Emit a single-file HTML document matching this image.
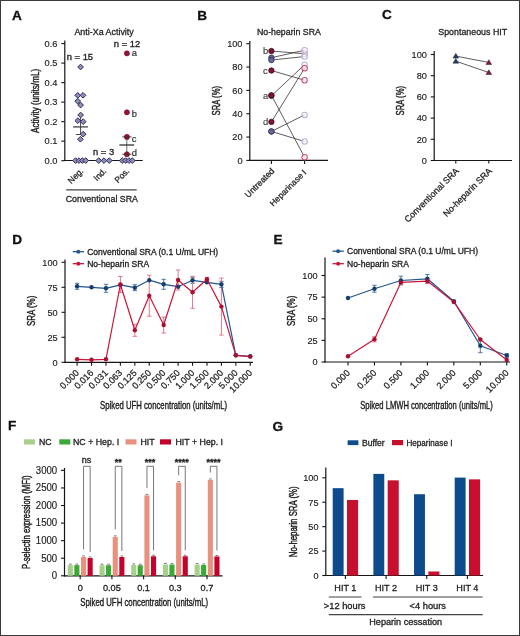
<!DOCTYPE html>
<html><head><meta charset="utf-8"><style>
html,body{margin:0;padding:0;background:#fff;}
body{width:520px;height:636px;overflow:hidden;}
svg{display:block;font-family:"Liberation Sans", sans-serif;filter:blur(0.35px);}
</style></head><body>
<svg width="520" height="636" viewBox="0 0 520 636">
<rect x="0" y="0" width="520" height="636" fill="#fff"/>
<text x="12.10" y="19.80" font-size="12.6" fill="#111" stroke="#111" stroke-width="0.3" font-weight="bold" textLength="9.85" lengthAdjust="spacingAndGlyphs">A</text>
<text x="74.40" y="34.80" font-size="9.79" text-anchor="start" fill="#1c1c1c" stroke="#1c1c1c" stroke-width="0.3" font-weight="normal" textLength="59.36" lengthAdjust="spacingAndGlyphs" >Anti-Xa Activity</text>
<line x1="64.80" y1="40.50" x2="64.80" y2="161.10" stroke="#151515" stroke-width="1.2" />
<line x1="61.30" y1="160.70" x2="64.80" y2="160.70" stroke="#151515" stroke-width="1.1" />
<text x="57.50" y="164.00" font-size="9.77" text-anchor="end" fill="#1c1c1c" stroke="#1c1c1c" stroke-width="0.15" font-weight="normal" textLength="12.93" lengthAdjust="spacingAndGlyphs" >0.0</text>
<line x1="61.30" y1="141.18" x2="64.80" y2="141.18" stroke="#151515" stroke-width="1.1" />
<text x="57.50" y="144.48" font-size="9.77" text-anchor="end" fill="#1c1c1c" stroke="#1c1c1c" stroke-width="0.15" font-weight="normal" textLength="12.93" lengthAdjust="spacingAndGlyphs" >0.1</text>
<line x1="61.30" y1="121.66" x2="64.80" y2="121.66" stroke="#151515" stroke-width="1.1" />
<text x="57.50" y="124.96" font-size="9.77" text-anchor="end" fill="#1c1c1c" stroke="#1c1c1c" stroke-width="0.15" font-weight="normal" textLength="12.93" lengthAdjust="spacingAndGlyphs" >0.2</text>
<line x1="61.30" y1="102.14" x2="64.80" y2="102.14" stroke="#151515" stroke-width="1.1" />
<text x="57.50" y="105.44" font-size="9.77" text-anchor="end" fill="#1c1c1c" stroke="#1c1c1c" stroke-width="0.15" font-weight="normal" textLength="12.93" lengthAdjust="spacingAndGlyphs" >0.3</text>
<line x1="61.30" y1="82.62" x2="64.80" y2="82.62" stroke="#151515" stroke-width="1.1" />
<text x="57.50" y="85.92" font-size="9.77" text-anchor="end" fill="#1c1c1c" stroke="#1c1c1c" stroke-width="0.15" font-weight="normal" textLength="12.93" lengthAdjust="spacingAndGlyphs" >0.4</text>
<line x1="61.30" y1="63.10" x2="64.80" y2="63.10" stroke="#151515" stroke-width="1.1" />
<text x="57.50" y="66.40" font-size="9.77" text-anchor="end" fill="#1c1c1c" stroke="#1c1c1c" stroke-width="0.15" font-weight="normal" textLength="12.93" lengthAdjust="spacingAndGlyphs" >0.5</text>
<line x1="61.30" y1="43.58" x2="64.80" y2="43.58" stroke="#151515" stroke-width="1.1" />
<text x="57.50" y="46.88" font-size="9.77" text-anchor="end" fill="#1c1c1c" stroke="#1c1c1c" stroke-width="0.15" font-weight="normal" textLength="12.93" lengthAdjust="spacingAndGlyphs" >0.6</text>
<line x1="64.20" y1="160.50" x2="142.70" y2="160.50" stroke="#151515" stroke-width="1.2" />
<text transform="translate(35.10,100.90) rotate(-90)" x="0" y="0" font-size="11.0" text-anchor="middle" dominant-baseline="central" fill="#1c1c1c" stroke="#1c1c1c" stroke-width="0.4" font-weight="normal" textLength="64" lengthAdjust="spacingAndGlyphs">Activity (units/mL)</text>
<text x="66.70" y="60.20" font-size="8.74" text-anchor="start" fill="#1c1c1c" stroke="#1c1c1c" stroke-width="0.3" font-weight="normal" textLength="26.40" lengthAdjust="spacingAndGlyphs" >n = 15</text>
<text x="113.80" y="46.70" font-size="8.74" text-anchor="start" fill="#1c1c1c" stroke="#1c1c1c" stroke-width="0.3" font-weight="normal" textLength="26.40" lengthAdjust="spacingAndGlyphs" >n = 12</text>
<text x="93.00" y="154.60" font-size="8.74" text-anchor="start" fill="#1c1c1c" stroke="#1c1c1c" stroke-width="0.3" font-weight="normal" textLength="21.17" lengthAdjust="spacingAndGlyphs" >n = 3</text>
<line x1="80.60" y1="116.00" x2="80.60" y2="134.50" stroke="#333" stroke-width="0.9" />
<line x1="75.80" y1="134.50" x2="80.60" y2="134.50" stroke="#333" stroke-width="0.9" />
<path d="M80.60 64.15 L83.45 67.00 L80.60 69.85 L77.75 67.00 Z" fill="#8e8eb9" stroke="#2e2e55" stroke-width="1.0"/>
<path d="M77.70 92.46 L80.55 95.31 L77.70 98.16 L74.85 95.31 Z" fill="#8e8eb9" stroke="#2e2e55" stroke-width="1.0"/>
<path d="M83.00 92.46 L85.85 95.31 L83.00 98.16 L80.15 95.31 Z" fill="#8e8eb9" stroke="#2e2e55" stroke-width="1.0"/>
<path d="M77.70 98.31 L80.55 101.16 L77.70 104.01 L74.85 101.16 Z" fill="#8e8eb9" stroke="#2e2e55" stroke-width="1.0"/>
<path d="M80.60 102.22 L83.45 105.07 L80.60 107.92 L77.75 105.07 Z" fill="#8e8eb9" stroke="#2e2e55" stroke-width="1.0"/>
<path d="M80.60 112.17 L83.45 115.02 L80.60 117.87 L77.75 115.02 Z" fill="#8e8eb9" stroke="#2e2e55" stroke-width="1.0"/>
<path d="M77.80 117.83 L80.65 120.68 L77.80 123.53 L74.95 120.68 Z" fill="#8e8eb9" stroke="#2e2e55" stroke-width="1.0"/>
<path d="M83.20 118.81 L86.05 121.66 L83.20 124.51 L80.35 121.66 Z" fill="#8e8eb9" stroke="#2e2e55" stroke-width="1.0"/>
<path d="M83.20 131.30 L86.05 134.15 L83.20 137.00 L80.35 134.15 Z" fill="#8e8eb9" stroke="#2e2e55" stroke-width="1.0"/>
<path d="M80.40 136.38 L83.25 139.23 L80.40 142.08 L77.55 139.23 Z" fill="#8e8eb9" stroke="#2e2e55" stroke-width="1.0"/>
<line x1="73.20" y1="126.90" x2="87.90" y2="126.90" stroke="#333" stroke-width="1.2" />
<path d="M75.60 157.75 L78.45 160.60 L75.60 163.45 L72.75 160.60 Z" fill="#8e8eb9" stroke="#2e2e55" stroke-width="1.0"/>
<path d="M79.00 157.75 L81.85 160.60 L79.00 163.45 L76.15 160.60 Z" fill="#8e8eb9" stroke="#2e2e55" stroke-width="1.0"/>
<path d="M82.40 157.75 L85.25 160.60 L82.40 163.45 L79.55 160.60 Z" fill="#8e8eb9" stroke="#2e2e55" stroke-width="1.0"/>
<path d="M85.70 157.75 L88.55 160.60 L85.70 163.45 L82.85 160.60 Z" fill="#8e8eb9" stroke="#2e2e55" stroke-width="1.0"/>
<path d="M98.70 157.75 L101.55 160.60 L98.70 163.45 L95.85 160.60 Z" fill="#8e8eb9" stroke="#2e2e55" stroke-width="1.0"/>
<path d="M104.00 157.75 L106.85 160.60 L104.00 163.45 L101.15 160.60 Z" fill="#8e8eb9" stroke="#2e2e55" stroke-width="1.0"/>
<path d="M109.30 157.75 L112.15 160.60 L109.30 163.45 L106.45 160.60 Z" fill="#8e8eb9" stroke="#2e2e55" stroke-width="1.0"/>
<line x1="126.80" y1="137.30" x2="126.80" y2="154.50" stroke="#4a6a6a" stroke-width="0.9" />
<line x1="119.40" y1="145.00" x2="134.20" y2="145.00" stroke="#2a2a2a" stroke-width="1.25" />
<path d="M122.20 157.75 L125.05 160.60 L122.20 163.45 L119.35 160.60 Z" fill="#8e8eb9" stroke="#2e2e55" stroke-width="1.0"/>
<path d="M125.60 157.75 L128.45 160.60 L125.60 163.45 L122.75 160.60 Z" fill="#8e8eb9" stroke="#2e2e55" stroke-width="1.0"/>
<path d="M128.90 157.75 L131.75 160.60 L128.90 163.45 L126.05 160.60 Z" fill="#8e8eb9" stroke="#2e2e55" stroke-width="1.0"/>
<path d="M132.30 157.75 L135.15 160.60 L132.30 163.45 L129.45 160.60 Z" fill="#8e8eb9" stroke="#2e2e55" stroke-width="1.0"/>
<circle cx="126.9" cy="53.34" r="2.6" fill="#9a1232" stroke="#5a0a20" stroke-width="0.5"/>
<text x="131.80" y="55.94" font-size="9.40" text-anchor="start" fill="#333" stroke="#333" stroke-width="0.2" font-weight="normal" textLength="5.23" lengthAdjust="spacingAndGlyphs" >a</text>
<circle cx="126.9" cy="112.29" r="2.6" fill="#9a1232" stroke="#5a0a20" stroke-width="0.5"/>
<text x="131.80" y="116.69" font-size="9.40" text-anchor="start" fill="#333" stroke="#333" stroke-width="0.2" font-weight="normal" textLength="5.23" lengthAdjust="spacingAndGlyphs" >b</text>
<circle cx="126.9" cy="136.89" r="2.6" fill="#9a1232" stroke="#5a0a20" stroke-width="0.5"/>
<text x="131.80" y="142.09" font-size="9.40" text-anchor="start" fill="#333" stroke="#333" stroke-width="0.2" font-weight="normal" textLength="4.70" lengthAdjust="spacingAndGlyphs" >c</text>
<circle cx="126.9" cy="154.26" r="2.6" fill="#9a1232" stroke="#5a0a20" stroke-width="0.5"/>
<text x="131.80" y="155.86" font-size="9.40" text-anchor="start" fill="#333" stroke="#333" stroke-width="0.2" font-weight="normal" textLength="5.23" lengthAdjust="spacingAndGlyphs" >d</text>
<line x1="122.30" y1="136.89" x2="131.50" y2="136.89" stroke="#333" stroke-width="0.9" />
<line x1="122.30" y1="154.26" x2="131.50" y2="154.26" stroke="#333" stroke-width="0.9" />
<text transform="translate(84.00,171.50) rotate(-45)" x="0" y="0" font-size="8.50" text-anchor="end" fill="#1c1c1c" stroke="#1c1c1c" stroke-width="0.25" textLength="17.95" lengthAdjust="spacingAndGlyphs">Neg.</text>
<text transform="translate(107.00,171.50) rotate(-45)" x="0" y="0" font-size="8.50" text-anchor="end" fill="#1c1c1c" stroke="#1c1c1c" stroke-width="0.25" textLength="14.18" lengthAdjust="spacingAndGlyphs">Ind.</text>
<text transform="translate(130.00,171.50) rotate(-45)" x="0" y="0" font-size="8.50" text-anchor="end" fill="#1c1c1c" stroke="#1c1c1c" stroke-width="0.25" textLength="17.01" lengthAdjust="spacingAndGlyphs">Pos.</text>
<line x1="66.20" y1="189.80" x2="136.70" y2="189.80" stroke="#444" stroke-width="1.2" />
<text x="65.70" y="201.50" font-size="9.74" text-anchor="start" fill="#1c1c1c" stroke="#1c1c1c" stroke-width="0.3" font-weight="normal" textLength="72.32" lengthAdjust="spacingAndGlyphs" >Conventional SRA</text>
<text x="197.30" y="19.80" font-size="12.6" fill="#111" stroke="#111" stroke-width="0.3" font-weight="bold" textLength="9.85" lengthAdjust="spacingAndGlyphs">B</text>
<text x="256.90" y="35.00" font-size="9.68" text-anchor="start" fill="#1c1c1c" stroke="#1c1c1c" stroke-width="0.3" font-weight="normal" textLength="64.08" lengthAdjust="spacingAndGlyphs" >No-heparin SRA</text>
<line x1="249.80" y1="41.00" x2="249.80" y2="161.00" stroke="#151515" stroke-width="1.2" />
<line x1="246.30" y1="160.40" x2="249.80" y2="160.40" stroke="#151515" stroke-width="1.1" />
<text x="242.50" y="163.70" font-size="9.66" text-anchor="end" fill="#1c1c1c" stroke="#1c1c1c" stroke-width="0.15" font-weight="normal" textLength="5.12" lengthAdjust="spacingAndGlyphs" >0</text>
<line x1="246.30" y1="137.06" x2="249.80" y2="137.06" stroke="#151515" stroke-width="1.1" />
<text x="242.50" y="140.36" font-size="9.66" text-anchor="end" fill="#1c1c1c" stroke="#1c1c1c" stroke-width="0.15" font-weight="normal" textLength="10.23" lengthAdjust="spacingAndGlyphs" >20</text>
<line x1="246.30" y1="113.72" x2="249.80" y2="113.72" stroke="#151515" stroke-width="1.1" />
<text x="242.50" y="117.02" font-size="9.66" text-anchor="end" fill="#1c1c1c" stroke="#1c1c1c" stroke-width="0.15" font-weight="normal" textLength="10.23" lengthAdjust="spacingAndGlyphs" >40</text>
<line x1="246.30" y1="90.38" x2="249.80" y2="90.38" stroke="#151515" stroke-width="1.1" />
<text x="242.50" y="93.68" font-size="9.66" text-anchor="end" fill="#1c1c1c" stroke="#1c1c1c" stroke-width="0.15" font-weight="normal" textLength="10.23" lengthAdjust="spacingAndGlyphs" >60</text>
<line x1="246.30" y1="67.04" x2="249.80" y2="67.04" stroke="#151515" stroke-width="1.1" />
<text x="242.50" y="70.34" font-size="9.66" text-anchor="end" fill="#1c1c1c" stroke="#1c1c1c" stroke-width="0.15" font-weight="normal" textLength="10.23" lengthAdjust="spacingAndGlyphs" >80</text>
<line x1="246.30" y1="43.70" x2="249.80" y2="43.70" stroke="#151515" stroke-width="1.1" />
<text x="242.50" y="47.00" font-size="9.66" text-anchor="end" fill="#1c1c1c" stroke="#1c1c1c" stroke-width="0.15" font-weight="normal" textLength="15.35" lengthAdjust="spacingAndGlyphs" >100</text>
<line x1="249.20" y1="160.40" x2="328.00" y2="160.40" stroke="#151515" stroke-width="1.2" />
<line x1="271.40" y1="160.40" x2="271.40" y2="164.00" stroke="#151515" stroke-width="1.1" />
<line x1="304.60" y1="160.40" x2="304.60" y2="164.00" stroke="#151515" stroke-width="1.1" />
<text transform="translate(216.10,100.70) rotate(-90)" x="0" y="0" font-size="11.5" text-anchor="middle" dominant-baseline="central" fill="#1c1c1c" stroke="#1c1c1c" stroke-width="0.42" font-weight="normal" textLength="29.4" lengthAdjust="spacingAndGlyphs">SRA (%)</text>
<line x1="271.40" y1="51.05" x2="304.60" y2="53.74" stroke="#333" stroke-width="0.8" />
<line x1="271.40" y1="57.70" x2="304.60" y2="50.24" stroke="#333" stroke-width="0.8" />
<line x1="271.40" y1="60.04" x2="304.60" y2="56.54" stroke="#333" stroke-width="0.8" />
<line x1="271.40" y1="70.54" x2="304.60" y2="80.23" stroke="#333" stroke-width="0.8" />
<line x1="271.40" y1="95.86" x2="304.60" y2="64.71" stroke="#333" stroke-width="0.8" />
<line x1="271.40" y1="95.28" x2="304.60" y2="157.25" stroke="#333" stroke-width="0.8" />
<line x1="271.40" y1="121.89" x2="304.60" y2="68.21" stroke="#333" stroke-width="0.8" />
<line x1="271.40" y1="131.46" x2="304.60" y2="114.89" stroke="#333" stroke-width="0.8" />
<line x1="271.40" y1="131.46" x2="304.60" y2="141.49" stroke="#333" stroke-width="0.8" />
<circle cx="304.6" cy="53.74" r="2.7" fill="white" fill-opacity="0.6" stroke="#d89ac0" stroke-width="1.1"/>
<circle cx="304.6" cy="50.24" r="2.7" fill="white" fill-opacity="0.6" stroke="#b9b2d9" stroke-width="1.1"/>
<circle cx="304.6" cy="56.54" r="2.7" fill="white" fill-opacity="0.6" stroke="#b9b2d9" stroke-width="1.1"/>
<circle cx="304.6" cy="80.23" r="2.7" fill="white" fill-opacity="0.6" stroke="#d2506e" stroke-width="1.1"/>
<circle cx="304.6" cy="64.71" r="2.7" fill="white" fill-opacity="0.6" stroke="#b9b2d9" stroke-width="1.1"/>
<circle cx="304.6" cy="157.25" r="2.7" fill="white" fill-opacity="0.6" stroke="#d2506e" stroke-width="1.1"/>
<circle cx="304.6" cy="68.21" r="2.7" fill="white" fill-opacity="0.6" stroke="#d2506e" stroke-width="1.1"/>
<circle cx="304.6" cy="114.89" r="2.7" fill="white" fill-opacity="0.6" stroke="#b9b2d9" stroke-width="1.1"/>
<circle cx="304.6" cy="141.49" r="2.7" fill="white" fill-opacity="0.6" stroke="#b9b2d9" stroke-width="1.1"/>
<circle cx="271.4" cy="57.70" r="2.7" fill="#68689a" stroke="#2a2a48" stroke-width="0.8"/>
<circle cx="271.4" cy="60.04" r="2.7" fill="#68689a" stroke="#2a2a48" stroke-width="0.8"/>
<circle cx="271.4" cy="95.86" r="2.7" fill="#68689a" stroke="#2a2a48" stroke-width="0.8"/>
<circle cx="271.4" cy="131.46" r="2.7" fill="#68689a" stroke="#2a2a48" stroke-width="0.8"/>
<circle cx="271.4" cy="131.46" r="2.7" fill="#68689a" stroke="#2a2a48" stroke-width="0.8"/>
<circle cx="271.4" cy="51.05" r="2.7" fill="#7e1232" stroke="#4a0a1e" stroke-width="0.8"/>
<circle cx="271.4" cy="70.54" r="2.7" fill="#7e1232" stroke="#4a0a1e" stroke-width="0.8"/>
<circle cx="271.4" cy="95.28" r="2.7" fill="#7e1232" stroke="#4a0a1e" stroke-width="0.8"/>
<circle cx="271.4" cy="121.89" r="2.7" fill="#7e1232" stroke="#4a0a1e" stroke-width="0.8"/>
<text x="263.00" y="54.25" font-size="9.40" text-anchor="start" fill="#444" stroke="#444" stroke-width="0.15" font-weight="normal" textLength="5.23" lengthAdjust="spacingAndGlyphs" >b</text>
<text x="263.00" y="73.74" font-size="9.40" text-anchor="start" fill="#444" stroke="#444" stroke-width="0.15" font-weight="normal" textLength="4.70" lengthAdjust="spacingAndGlyphs" >c</text>
<text x="263.00" y="98.83" font-size="9.40" text-anchor="start" fill="#444" stroke="#444" stroke-width="0.15" font-weight="normal" textLength="5.23" lengthAdjust="spacingAndGlyphs" >a</text>
<text x="263.00" y="125.09" font-size="9.40" text-anchor="start" fill="#444" stroke="#444" stroke-width="0.15" font-weight="normal" textLength="5.23" lengthAdjust="spacingAndGlyphs" >d</text>
<text transform="translate(275.00,171.50) rotate(-45)" x="0" y="0" font-size="8.60" text-anchor="end" fill="#1c1c1c" stroke="#1c1c1c" stroke-width="0.25" textLength="37.77" lengthAdjust="spacingAndGlyphs">Untreated</text>
<text transform="translate(307.00,173.00) rotate(-45)" x="0" y="0" font-size="8.40" text-anchor="end" fill="#1c1c1c" stroke="#1c1c1c" stroke-width="0.25" textLength="47.63" lengthAdjust="spacingAndGlyphs">Heparinase I</text>
<text x="381.90" y="19.40" font-size="12.6" fill="#111" stroke="#111" stroke-width="0.3" font-weight="bold" textLength="9.85" lengthAdjust="spacingAndGlyphs">C</text>
<text x="438.30" y="35.00" font-size="9.74" text-anchor="start" fill="#1c1c1c" stroke="#1c1c1c" stroke-width="0.3" font-weight="normal" textLength="68.88" lengthAdjust="spacingAndGlyphs" >Spontaneous HIT</text>
<line x1="434.20" y1="51.00" x2="434.20" y2="161.10" stroke="#151515" stroke-width="1.2" />
<line x1="430.70" y1="160.50" x2="434.20" y2="160.50" stroke="#151515" stroke-width="1.1" />
<text x="426.90" y="163.80" font-size="9.66" text-anchor="end" fill="#1c1c1c" stroke="#1c1c1c" stroke-width="0.15" font-weight="normal" textLength="5.12" lengthAdjust="spacingAndGlyphs" >0</text>
<line x1="430.70" y1="139.30" x2="434.20" y2="139.30" stroke="#151515" stroke-width="1.1" />
<text x="426.90" y="142.60" font-size="9.66" text-anchor="end" fill="#1c1c1c" stroke="#1c1c1c" stroke-width="0.15" font-weight="normal" textLength="10.23" lengthAdjust="spacingAndGlyphs" >20</text>
<line x1="430.70" y1="118.10" x2="434.20" y2="118.10" stroke="#151515" stroke-width="1.1" />
<text x="426.90" y="121.40" font-size="9.66" text-anchor="end" fill="#1c1c1c" stroke="#1c1c1c" stroke-width="0.15" font-weight="normal" textLength="10.23" lengthAdjust="spacingAndGlyphs" >40</text>
<line x1="430.70" y1="96.90" x2="434.20" y2="96.90" stroke="#151515" stroke-width="1.1" />
<text x="426.90" y="100.20" font-size="9.66" text-anchor="end" fill="#1c1c1c" stroke="#1c1c1c" stroke-width="0.15" font-weight="normal" textLength="10.23" lengthAdjust="spacingAndGlyphs" >60</text>
<line x1="430.70" y1="75.70" x2="434.20" y2="75.70" stroke="#151515" stroke-width="1.1" />
<text x="426.90" y="79.00" font-size="9.66" text-anchor="end" fill="#1c1c1c" stroke="#1c1c1c" stroke-width="0.15" font-weight="normal" textLength="10.23" lengthAdjust="spacingAndGlyphs" >80</text>
<line x1="430.70" y1="54.50" x2="434.20" y2="54.50" stroke="#151515" stroke-width="1.1" />
<text x="426.90" y="57.80" font-size="9.66" text-anchor="end" fill="#1c1c1c" stroke="#1c1c1c" stroke-width="0.15" font-weight="normal" textLength="15.35" lengthAdjust="spacingAndGlyphs" >100</text>
<line x1="433.60" y1="160.50" x2="512.00" y2="160.50" stroke="#151515" stroke-width="1.2" />
<line x1="455.80" y1="160.50" x2="455.80" y2="163.50" stroke="#151515" stroke-width="1.1" />
<line x1="488.80" y1="160.50" x2="488.80" y2="163.50" stroke="#151515" stroke-width="1.1" />
<text transform="translate(400.10,100.70) rotate(-90)" x="0" y="0" font-size="11.5" text-anchor="middle" dominant-baseline="central" fill="#1c1c1c" stroke="#1c1c1c" stroke-width="0.42" font-weight="normal" textLength="29.4" lengthAdjust="spacingAndGlyphs">SRA (%)</text>
<line x1="455.80" y1="56.09" x2="488.80" y2="62.45" stroke="#333" stroke-width="0.8" />
<line x1="455.80" y1="61.18" x2="488.80" y2="72.52" stroke="#333" stroke-width="0.8" />
<path d="M455.80 53.39 L458.63 58.11 L452.97 58.11 Z" fill="#1d3f6e" stroke="#222" stroke-width="0.5"/>
<path d="M488.80 59.75 L491.63 64.47 L485.97 64.47 Z" fill="#8a1b3c" stroke="#222" stroke-width="0.5"/>
<path d="M455.80 58.48 L458.63 63.20 L452.97 63.20 Z" fill="#1d3f6e" stroke="#222" stroke-width="0.5"/>
<path d="M488.80 69.82 L491.63 74.55 L485.97 74.55 Z" fill="#8a1b3c" stroke="#222" stroke-width="0.5"/>
<text transform="translate(459.50,171.50) rotate(-45)" x="0" y="0" font-size="8.90" text-anchor="end" fill="#1c1c1c" stroke="#1c1c1c" stroke-width="0.25" textLength="72.73" lengthAdjust="spacingAndGlyphs">Conventional SRA</text>
<text transform="translate(492.50,171.50) rotate(-45)" x="0" y="0" font-size="8.90" text-anchor="end" fill="#1c1c1c" stroke="#1c1c1c" stroke-width="0.25" textLength="64.81" lengthAdjust="spacingAndGlyphs">No-heparin SRA</text>
<text x="12.20" y="243.50" font-size="12.6" fill="#111" stroke="#111" stroke-width="0.3" font-weight="bold" textLength="9.85" lengthAdjust="spacingAndGlyphs">D</text>
<line x1="65.00" y1="259.50" x2="65.00" y2="362.90" stroke="#151515" stroke-width="1.2" />
<line x1="61.50" y1="362.30" x2="65.00" y2="362.30" stroke="#151515" stroke-width="1.1" />
<text x="57.70" y="365.60" font-size="9.66" text-anchor="end" fill="#1c1c1c" stroke="#1c1c1c" stroke-width="0.15" font-weight="normal" textLength="5.12" lengthAdjust="spacingAndGlyphs" >0</text>
<line x1="61.50" y1="337.30" x2="65.00" y2="337.30" stroke="#151515" stroke-width="1.1" />
<text x="57.70" y="340.60" font-size="9.66" text-anchor="end" fill="#1c1c1c" stroke="#1c1c1c" stroke-width="0.15" font-weight="normal" textLength="10.23" lengthAdjust="spacingAndGlyphs" >25</text>
<line x1="61.50" y1="312.30" x2="65.00" y2="312.30" stroke="#151515" stroke-width="1.1" />
<text x="57.70" y="315.60" font-size="9.66" text-anchor="end" fill="#1c1c1c" stroke="#1c1c1c" stroke-width="0.15" font-weight="normal" textLength="10.23" lengthAdjust="spacingAndGlyphs" >50</text>
<line x1="61.50" y1="287.30" x2="65.00" y2="287.30" stroke="#151515" stroke-width="1.1" />
<text x="57.70" y="290.60" font-size="9.66" text-anchor="end" fill="#1c1c1c" stroke="#1c1c1c" stroke-width="0.15" font-weight="normal" textLength="10.23" lengthAdjust="spacingAndGlyphs" >75</text>
<line x1="61.50" y1="262.30" x2="65.00" y2="262.30" stroke="#151515" stroke-width="1.1" />
<text x="57.70" y="265.60" font-size="9.66" text-anchor="end" fill="#1c1c1c" stroke="#1c1c1c" stroke-width="0.15" font-weight="normal" textLength="15.35" lengthAdjust="spacingAndGlyphs" >100</text>
<line x1="64.40" y1="362.30" x2="253.00" y2="362.30" stroke="#151515" stroke-width="1.2" />
<line x1="77.10" y1="362.30" x2="77.10" y2="365.80" stroke="#151515" stroke-width="1.1" />
<line x1="91.53" y1="362.30" x2="91.53" y2="365.80" stroke="#151515" stroke-width="1.1" />
<line x1="105.96" y1="362.30" x2="105.96" y2="365.80" stroke="#151515" stroke-width="1.1" />
<line x1="120.39" y1="362.30" x2="120.39" y2="365.80" stroke="#151515" stroke-width="1.1" />
<line x1="134.82" y1="362.30" x2="134.82" y2="365.80" stroke="#151515" stroke-width="1.1" />
<line x1="149.25" y1="362.30" x2="149.25" y2="365.80" stroke="#151515" stroke-width="1.1" />
<line x1="163.68" y1="362.30" x2="163.68" y2="365.80" stroke="#151515" stroke-width="1.1" />
<line x1="178.11" y1="362.30" x2="178.11" y2="365.80" stroke="#151515" stroke-width="1.1" />
<line x1="192.54" y1="362.30" x2="192.54" y2="365.80" stroke="#151515" stroke-width="1.1" />
<line x1="206.97" y1="362.30" x2="206.97" y2="365.80" stroke="#151515" stroke-width="1.1" />
<line x1="221.40" y1="362.30" x2="221.40" y2="365.80" stroke="#151515" stroke-width="1.1" />
<line x1="235.83" y1="362.30" x2="235.83" y2="365.80" stroke="#151515" stroke-width="1.1" />
<line x1="250.26" y1="362.30" x2="250.26" y2="365.80" stroke="#151515" stroke-width="1.1" />
<line x1="77.10" y1="283.30" x2="77.10" y2="289.30" stroke="#3b6da0" stroke-width="0.9" />
<line x1="74.90" y1="283.30" x2="79.30" y2="283.30" stroke="#3b6da0" stroke-width="0.9" />
<line x1="74.90" y1="289.30" x2="79.30" y2="289.30" stroke="#3b6da0" stroke-width="0.9" />
<line x1="105.96" y1="284.30" x2="105.96" y2="292.30" stroke="#3b6da0" stroke-width="0.9" />
<line x1="103.76" y1="284.30" x2="108.16" y2="284.30" stroke="#3b6da0" stroke-width="0.9" />
<line x1="103.76" y1="292.30" x2="108.16" y2="292.30" stroke="#3b6da0" stroke-width="0.9" />
<line x1="134.82" y1="284.70" x2="134.82" y2="290.70" stroke="#3b6da0" stroke-width="0.9" />
<line x1="132.62" y1="284.70" x2="137.02" y2="284.70" stroke="#3b6da0" stroke-width="0.9" />
<line x1="132.62" y1="290.70" x2="137.02" y2="290.70" stroke="#3b6da0" stroke-width="0.9" />
<line x1="163.68" y1="279.30" x2="163.68" y2="289.30" stroke="#3b6da0" stroke-width="0.9" />
<line x1="161.48" y1="279.30" x2="165.88" y2="279.30" stroke="#3b6da0" stroke-width="0.9" />
<line x1="161.48" y1="289.30" x2="165.88" y2="289.30" stroke="#3b6da0" stroke-width="0.9" />
<line x1="192.54" y1="277.30" x2="192.54" y2="283.30" stroke="#3b6da0" stroke-width="0.9" />
<line x1="190.34" y1="277.30" x2="194.74" y2="277.30" stroke="#3b6da0" stroke-width="0.9" />
<line x1="190.34" y1="283.30" x2="194.74" y2="283.30" stroke="#3b6da0" stroke-width="0.9" />
<line x1="221.40" y1="281.30" x2="221.40" y2="287.30" stroke="#3b6da0" stroke-width="0.9" />
<line x1="219.20" y1="281.30" x2="223.60" y2="281.30" stroke="#3b6da0" stroke-width="0.9" />
<line x1="219.20" y1="287.30" x2="223.60" y2="287.30" stroke="#3b6da0" stroke-width="0.9" />
<line x1="120.39" y1="276.50" x2="120.39" y2="292.50" stroke="#e06a80" stroke-width="0.9" />
<line x1="118.19" y1="276.50" x2="122.59" y2="276.50" stroke="#e06a80" stroke-width="0.9" />
<line x1="118.19" y1="292.50" x2="122.59" y2="292.50" stroke="#e06a80" stroke-width="0.9" />
<line x1="134.82" y1="324.30" x2="134.82" y2="336.30" stroke="#e06a80" stroke-width="0.9" />
<line x1="132.62" y1="324.30" x2="137.02" y2="324.30" stroke="#e06a80" stroke-width="0.9" />
<line x1="132.62" y1="336.30" x2="137.02" y2="336.30" stroke="#e06a80" stroke-width="0.9" />
<line x1="149.25" y1="275.20" x2="149.25" y2="316.20" stroke="#e06a80" stroke-width="0.9" />
<line x1="147.05" y1="275.20" x2="151.45" y2="275.20" stroke="#e06a80" stroke-width="0.9" />
<line x1="147.05" y1="316.20" x2="151.45" y2="316.20" stroke="#e06a80" stroke-width="0.9" />
<line x1="163.68" y1="317.00" x2="163.68" y2="333.00" stroke="#e06a80" stroke-width="0.9" />
<line x1="161.48" y1="317.00" x2="165.88" y2="317.00" stroke="#e06a80" stroke-width="0.9" />
<line x1="161.48" y1="333.00" x2="165.88" y2="333.00" stroke="#e06a80" stroke-width="0.9" />
<line x1="178.11" y1="270.00" x2="178.11" y2="290.00" stroke="#e06a80" stroke-width="0.9" />
<line x1="175.91" y1="270.00" x2="180.31" y2="270.00" stroke="#e06a80" stroke-width="0.9" />
<line x1="175.91" y1="290.00" x2="180.31" y2="290.00" stroke="#e06a80" stroke-width="0.9" />
<line x1="192.54" y1="276.30" x2="192.54" y2="308.30" stroke="#e06a80" stroke-width="0.9" />
<line x1="190.34" y1="276.30" x2="194.74" y2="276.30" stroke="#e06a80" stroke-width="0.9" />
<line x1="190.34" y1="308.30" x2="194.74" y2="308.30" stroke="#e06a80" stroke-width="0.9" />
<line x1="206.97" y1="277.30" x2="206.97" y2="281.30" stroke="#e06a80" stroke-width="0.9" />
<line x1="204.77" y1="277.30" x2="209.17" y2="277.30" stroke="#e06a80" stroke-width="0.9" />
<line x1="204.77" y1="281.30" x2="209.17" y2="281.30" stroke="#e06a80" stroke-width="0.9" />
<line x1="221.40" y1="278.10" x2="221.40" y2="335.10" stroke="#e06a80" stroke-width="0.9" />
<line x1="219.20" y1="278.10" x2="223.60" y2="278.10" stroke="#e06a80" stroke-width="0.9" />
<line x1="219.20" y1="335.10" x2="223.60" y2="335.10" stroke="#e06a80" stroke-width="0.9" />
<polyline points="77.10,286.30 91.53,287.30 105.96,288.30 120.39,284.90 134.82,287.70 149.25,280.20 163.68,284.30 178.11,286.70 192.54,280.30 206.97,282.30 221.40,284.30 235.83,355.30 250.26,356.30" fill="none" stroke="#22568e" stroke-width="1.2" stroke-linejoin="round"/>
<circle cx="77.10" cy="286.30" r="2.2" fill="#173e6e"/>
<circle cx="91.53" cy="287.30" r="2.2" fill="#173e6e"/>
<circle cx="105.96" cy="288.30" r="2.2" fill="#173e6e"/>
<circle cx="120.39" cy="284.90" r="2.2" fill="#173e6e"/>
<circle cx="134.82" cy="287.70" r="2.2" fill="#173e6e"/>
<circle cx="149.25" cy="280.20" r="2.2" fill="#173e6e"/>
<circle cx="163.68" cy="284.30" r="2.2" fill="#173e6e"/>
<circle cx="178.11" cy="286.70" r="2.2" fill="#173e6e"/>
<circle cx="192.54" cy="280.30" r="2.2" fill="#173e6e"/>
<circle cx="206.97" cy="282.30" r="2.2" fill="#173e6e"/>
<circle cx="221.40" cy="284.30" r="2.2" fill="#173e6e"/>
<circle cx="235.83" cy="355.30" r="2.2" fill="#173e6e"/>
<circle cx="250.26" cy="356.30" r="2.2" fill="#173e6e"/>
<polyline points="77.10,359.30 91.53,359.80 105.96,359.30 120.39,284.50 134.82,330.30 149.25,295.70 163.68,325.00 178.11,280.00 192.54,292.30 206.97,279.30 221.40,306.60 235.83,355.30 250.26,356.60" fill="none" stroke="#c8173a" stroke-width="1.2" stroke-linejoin="round"/>
<circle cx="77.10" cy="359.30" r="2.2" fill="#a80f30"/>
<circle cx="91.53" cy="359.80" r="2.2" fill="#a80f30"/>
<circle cx="105.96" cy="359.30" r="2.2" fill="#a80f30"/>
<circle cx="120.39" cy="284.50" r="2.2" fill="#a80f30"/>
<circle cx="134.82" cy="330.30" r="2.2" fill="#a80f30"/>
<circle cx="149.25" cy="295.70" r="2.2" fill="#a80f30"/>
<circle cx="163.68" cy="325.00" r="2.2" fill="#a80f30"/>
<circle cx="178.11" cy="280.00" r="2.2" fill="#a80f30"/>
<circle cx="192.54" cy="292.30" r="2.2" fill="#a80f30"/>
<circle cx="206.97" cy="279.30" r="2.2" fill="#a80f30"/>
<circle cx="221.40" cy="306.60" r="2.2" fill="#a80f30"/>
<circle cx="235.83" cy="355.30" r="2.2" fill="#a80f30"/>
<circle cx="250.26" cy="356.60" r="2.2" fill="#a80f30"/>
<line x1="72.70" y1="251.70" x2="84.00" y2="251.70" stroke="#22568e" stroke-width="1.3" />
<circle cx="78.30" cy="251.7" r="2" fill="#22568e"/>
<text x="87.20" y="254.80" font-size="8.50" text-anchor="start" fill="#1c1c1c" stroke="#1c1c1c" stroke-width="0.3" font-weight="normal" textLength="131.01" lengthAdjust="spacingAndGlyphs" >Conventional SRA (0.1 U/mL UFH)</text>
<line x1="72.70" y1="263.70" x2="84.00" y2="263.70" stroke="#c8173a" stroke-width="1.3" />
<circle cx="78.30" cy="263.7" r="2" fill="#c8173a"/>
<text x="87.20" y="266.80" font-size="8.50" text-anchor="start" fill="#1c1c1c" stroke="#1c1c1c" stroke-width="0.3" font-weight="normal" textLength="61.89" lengthAdjust="spacingAndGlyphs" >No-heparin SRA</text>
<text transform="translate(79.60,373.50) rotate(-45)" x="0" y="0" font-size="9.10" text-anchor="end" fill="#1c1c1c" stroke="#1c1c1c" stroke-width="0.25" textLength="22.77" lengthAdjust="spacingAndGlyphs">0.000</text>
<text transform="translate(94.03,373.50) rotate(-45)" x="0" y="0" font-size="9.10" text-anchor="end" fill="#1c1c1c" stroke="#1c1c1c" stroke-width="0.25" textLength="22.77" lengthAdjust="spacingAndGlyphs">0.016</text>
<text transform="translate(108.46,373.50) rotate(-45)" x="0" y="0" font-size="9.10" text-anchor="end" fill="#1c1c1c" stroke="#1c1c1c" stroke-width="0.25" textLength="22.77" lengthAdjust="spacingAndGlyphs">0.031</text>
<text transform="translate(122.89,373.50) rotate(-45)" x="0" y="0" font-size="9.10" text-anchor="end" fill="#1c1c1c" stroke="#1c1c1c" stroke-width="0.25" textLength="22.77" lengthAdjust="spacingAndGlyphs">0.063</text>
<text transform="translate(137.32,373.50) rotate(-45)" x="0" y="0" font-size="9.10" text-anchor="end" fill="#1c1c1c" stroke="#1c1c1c" stroke-width="0.25" textLength="22.77" lengthAdjust="spacingAndGlyphs">0.125</text>
<text transform="translate(151.75,373.50) rotate(-45)" x="0" y="0" font-size="9.10" text-anchor="end" fill="#1c1c1c" stroke="#1c1c1c" stroke-width="0.25" textLength="22.77" lengthAdjust="spacingAndGlyphs">0.250</text>
<text transform="translate(166.18,373.50) rotate(-45)" x="0" y="0" font-size="9.10" text-anchor="end" fill="#1c1c1c" stroke="#1c1c1c" stroke-width="0.25" textLength="22.77" lengthAdjust="spacingAndGlyphs">0.500</text>
<text transform="translate(180.61,373.50) rotate(-45)" x="0" y="0" font-size="9.10" text-anchor="end" fill="#1c1c1c" stroke="#1c1c1c" stroke-width="0.25" textLength="22.77" lengthAdjust="spacingAndGlyphs">0.750</text>
<text transform="translate(195.04,373.50) rotate(-45)" x="0" y="0" font-size="9.10" text-anchor="end" fill="#1c1c1c" stroke="#1c1c1c" stroke-width="0.25" textLength="22.77" lengthAdjust="spacingAndGlyphs">1.000</text>
<text transform="translate(209.47,373.50) rotate(-45)" x="0" y="0" font-size="9.10" text-anchor="end" fill="#1c1c1c" stroke="#1c1c1c" stroke-width="0.25" textLength="22.77" lengthAdjust="spacingAndGlyphs">1.500</text>
<text transform="translate(223.90,373.50) rotate(-45)" x="0" y="0" font-size="9.10" text-anchor="end" fill="#1c1c1c" stroke="#1c1c1c" stroke-width="0.25" textLength="22.77" lengthAdjust="spacingAndGlyphs">2.000</text>
<text transform="translate(238.33,373.50) rotate(-45)" x="0" y="0" font-size="9.10" text-anchor="end" fill="#1c1c1c" stroke="#1c1c1c" stroke-width="0.25" textLength="22.77" lengthAdjust="spacingAndGlyphs">5.000</text>
<text transform="translate(252.76,373.50) rotate(-45)" x="0" y="0" font-size="9.10" text-anchor="end" fill="#1c1c1c" stroke="#1c1c1c" stroke-width="0.25" textLength="27.83" lengthAdjust="spacingAndGlyphs">10.000</text>
<text x="163.60" y="408.80" font-size="11.0" text-anchor="middle" fill="#1c1c1c" stroke="#1c1c1c" stroke-width="0.38" font-weight="normal" textLength="127" lengthAdjust="spacingAndGlyphs">Spiked UFH concentration (units/mL)</text>
<text transform="translate(31.20,310.90) rotate(-90)" x="0" y="0" font-size="11.5" text-anchor="middle" dominant-baseline="central" fill="#1c1c1c" stroke="#1c1c1c" stroke-width="0.42" font-weight="normal" textLength="30.4" lengthAdjust="spacingAndGlyphs">SRA (%)</text>
<text x="273.40" y="244.00" font-size="12.6" fill="#111" stroke="#111" stroke-width="0.3" font-weight="bold" textLength="9.10" lengthAdjust="spacingAndGlyphs">E</text>
<line x1="325.00" y1="257.50" x2="325.00" y2="362.60" stroke="#151515" stroke-width="1.2" />
<line x1="321.50" y1="362.00" x2="325.00" y2="362.00" stroke="#151515" stroke-width="1.1" />
<text x="317.70" y="365.30" font-size="9.66" text-anchor="end" fill="#1c1c1c" stroke="#1c1c1c" stroke-width="0.15" font-weight="normal" textLength="5.12" lengthAdjust="spacingAndGlyphs" >0</text>
<line x1="321.50" y1="340.38" x2="325.00" y2="340.38" stroke="#151515" stroke-width="1.1" />
<text x="317.70" y="343.68" font-size="9.66" text-anchor="end" fill="#1c1c1c" stroke="#1c1c1c" stroke-width="0.15" font-weight="normal" textLength="10.23" lengthAdjust="spacingAndGlyphs" >25</text>
<line x1="321.50" y1="318.75" x2="325.00" y2="318.75" stroke="#151515" stroke-width="1.1" />
<text x="317.70" y="322.05" font-size="9.66" text-anchor="end" fill="#1c1c1c" stroke="#1c1c1c" stroke-width="0.15" font-weight="normal" textLength="10.23" lengthAdjust="spacingAndGlyphs" >50</text>
<line x1="321.50" y1="297.12" x2="325.00" y2="297.12" stroke="#151515" stroke-width="1.1" />
<text x="317.70" y="300.43" font-size="9.66" text-anchor="end" fill="#1c1c1c" stroke="#1c1c1c" stroke-width="0.15" font-weight="normal" textLength="10.23" lengthAdjust="spacingAndGlyphs" >75</text>
<line x1="321.50" y1="275.50" x2="325.00" y2="275.50" stroke="#151515" stroke-width="1.1" />
<text x="317.70" y="278.80" font-size="9.66" text-anchor="end" fill="#1c1c1c" stroke="#1c1c1c" stroke-width="0.15" font-weight="normal" textLength="15.35" lengthAdjust="spacingAndGlyphs" >100</text>
<line x1="324.40" y1="362.00" x2="510.00" y2="362.00" stroke="#151515" stroke-width="1.2" />
<line x1="348.00" y1="362.00" x2="348.00" y2="365.50" stroke="#151515" stroke-width="1.1" />
<line x1="374.46" y1="362.00" x2="374.46" y2="365.50" stroke="#151515" stroke-width="1.1" />
<line x1="400.92" y1="362.00" x2="400.92" y2="365.50" stroke="#151515" stroke-width="1.1" />
<line x1="427.38" y1="362.00" x2="427.38" y2="365.50" stroke="#151515" stroke-width="1.1" />
<line x1="453.84" y1="362.00" x2="453.84" y2="365.50" stroke="#151515" stroke-width="1.1" />
<line x1="480.30" y1="362.00" x2="480.30" y2="365.50" stroke="#151515" stroke-width="1.1" />
<line x1="506.76" y1="362.00" x2="506.76" y2="365.50" stroke="#151515" stroke-width="1.1" />
<line x1="374.46" y1="285.27" x2="374.46" y2="292.19" stroke="#3b6da0" stroke-width="0.9" />
<line x1="372.26" y1="285.27" x2="376.66" y2="285.27" stroke="#3b6da0" stroke-width="0.9" />
<line x1="372.26" y1="292.19" x2="376.66" y2="292.19" stroke="#3b6da0" stroke-width="0.9" />
<line x1="400.92" y1="276.19" x2="400.92" y2="284.84" stroke="#3b6da0" stroke-width="0.9" />
<line x1="398.72" y1="276.19" x2="403.12" y2="276.19" stroke="#3b6da0" stroke-width="0.9" />
<line x1="398.72" y1="284.84" x2="403.12" y2="284.84" stroke="#3b6da0" stroke-width="0.9" />
<line x1="427.38" y1="274.46" x2="427.38" y2="283.11" stroke="#3b6da0" stroke-width="0.9" />
<line x1="425.18" y1="274.46" x2="429.58" y2="274.46" stroke="#3b6da0" stroke-width="0.9" />
<line x1="425.18" y1="283.11" x2="429.58" y2="283.11" stroke="#3b6da0" stroke-width="0.9" />
<line x1="480.30" y1="338.82" x2="480.30" y2="352.66" stroke="#3b6da0" stroke-width="0.9" />
<line x1="478.10" y1="338.82" x2="482.50" y2="338.82" stroke="#3b6da0" stroke-width="0.9" />
<line x1="478.10" y1="352.66" x2="482.50" y2="352.66" stroke="#3b6da0" stroke-width="0.9" />
<line x1="506.76" y1="353.78" x2="506.76" y2="357.24" stroke="#3b6da0" stroke-width="0.9" />
<line x1="504.56" y1="353.78" x2="508.96" y2="353.78" stroke="#3b6da0" stroke-width="0.9" />
<line x1="504.56" y1="357.24" x2="508.96" y2="357.24" stroke="#3b6da0" stroke-width="0.9" />
<line x1="374.46" y1="336.66" x2="374.46" y2="341.85" stroke="#e06a80" stroke-width="0.9" />
<line x1="372.26" y1="336.66" x2="376.66" y2="336.66" stroke="#e06a80" stroke-width="0.9" />
<line x1="372.26" y1="341.85" x2="376.66" y2="341.85" stroke="#e06a80" stroke-width="0.9" />
<line x1="400.92" y1="280.69" x2="400.92" y2="284.15" stroke="#e06a80" stroke-width="0.9" />
<line x1="398.72" y1="280.69" x2="403.12" y2="280.69" stroke="#e06a80" stroke-width="0.9" />
<line x1="398.72" y1="284.15" x2="403.12" y2="284.15" stroke="#e06a80" stroke-width="0.9" />
<line x1="427.38" y1="278.44" x2="427.38" y2="283.63" stroke="#e06a80" stroke-width="0.9" />
<line x1="425.18" y1="278.44" x2="429.58" y2="278.44" stroke="#e06a80" stroke-width="0.9" />
<line x1="425.18" y1="283.63" x2="429.58" y2="283.63" stroke="#e06a80" stroke-width="0.9" />
<polyline points="348.00,297.99 374.46,288.73 400.92,280.52 427.38,278.79 453.84,301.28 480.30,345.74 506.76,355.51" fill="none" stroke="#22568e" stroke-width="1.2" stroke-linejoin="round"/>
<circle cx="348.00" cy="297.99" r="2.2" fill="#173e6e"/>
<circle cx="374.46" cy="288.73" r="2.2" fill="#173e6e"/>
<circle cx="400.92" cy="280.52" r="2.2" fill="#173e6e"/>
<circle cx="427.38" cy="278.79" r="2.2" fill="#173e6e"/>
<circle cx="453.84" cy="301.28" r="2.2" fill="#173e6e"/>
<circle cx="480.30" cy="345.74" r="2.2" fill="#173e6e"/>
<circle cx="506.76" cy="355.51" r="2.2" fill="#173e6e"/>
<polyline points="348.00,356.29 374.46,339.25 400.92,282.42 427.38,281.04 453.84,301.97 480.30,339.51 506.76,360.01" fill="none" stroke="#c8173a" stroke-width="1.2" stroke-linejoin="round"/>
<circle cx="348.00" cy="356.29" r="2.2" fill="#a80f30"/>
<circle cx="374.46" cy="339.25" r="2.2" fill="#a80f30"/>
<circle cx="400.92" cy="282.42" r="2.2" fill="#a80f30"/>
<circle cx="427.38" cy="281.04" r="2.2" fill="#a80f30"/>
<circle cx="453.84" cy="301.97" r="2.2" fill="#a80f30"/>
<circle cx="480.30" cy="339.51" r="2.2" fill="#a80f30"/>
<circle cx="506.76" cy="360.01" r="2.2" fill="#a80f30"/>
<line x1="332.50" y1="251.20" x2="343.80" y2="251.20" stroke="#22568e" stroke-width="1.3" />
<circle cx="338.10" cy="251.2" r="2" fill="#22568e"/>
<text x="347.00" y="254.30" font-size="8.50" text-anchor="start" fill="#1c1c1c" stroke="#1c1c1c" stroke-width="0.3" font-weight="normal" textLength="131.01" lengthAdjust="spacingAndGlyphs" >Conventional SRA (0.1 U/mL UFH)</text>
<line x1="332.50" y1="263.70" x2="343.80" y2="263.70" stroke="#c8173a" stroke-width="1.3" />
<circle cx="338.10" cy="263.7" r="2" fill="#c8173a"/>
<text x="347.00" y="266.80" font-size="8.50" text-anchor="start" fill="#1c1c1c" stroke="#1c1c1c" stroke-width="0.3" font-weight="normal" textLength="61.89" lengthAdjust="spacingAndGlyphs" >No-heparin SRA</text>
<text transform="translate(350.50,373.50) rotate(-45)" x="0" y="0" font-size="9.10" text-anchor="end" fill="#1c1c1c" stroke="#1c1c1c" stroke-width="0.25" textLength="22.77" lengthAdjust="spacingAndGlyphs">0.000</text>
<text transform="translate(376.96,373.50) rotate(-45)" x="0" y="0" font-size="9.10" text-anchor="end" fill="#1c1c1c" stroke="#1c1c1c" stroke-width="0.25" textLength="22.77" lengthAdjust="spacingAndGlyphs">0.250</text>
<text transform="translate(403.42,373.50) rotate(-45)" x="0" y="0" font-size="9.10" text-anchor="end" fill="#1c1c1c" stroke="#1c1c1c" stroke-width="0.25" textLength="22.77" lengthAdjust="spacingAndGlyphs">0.500</text>
<text transform="translate(429.88,373.50) rotate(-45)" x="0" y="0" font-size="9.10" text-anchor="end" fill="#1c1c1c" stroke="#1c1c1c" stroke-width="0.25" textLength="22.77" lengthAdjust="spacingAndGlyphs">1.000</text>
<text transform="translate(456.34,373.50) rotate(-45)" x="0" y="0" font-size="9.10" text-anchor="end" fill="#1c1c1c" stroke="#1c1c1c" stroke-width="0.25" textLength="22.77" lengthAdjust="spacingAndGlyphs">2.000</text>
<text transform="translate(482.80,373.50) rotate(-45)" x="0" y="0" font-size="9.10" text-anchor="end" fill="#1c1c1c" stroke="#1c1c1c" stroke-width="0.25" textLength="22.77" lengthAdjust="spacingAndGlyphs">5.000</text>
<text transform="translate(509.26,373.50) rotate(-45)" x="0" y="0" font-size="9.10" text-anchor="end" fill="#1c1c1c" stroke="#1c1c1c" stroke-width="0.25" textLength="27.83" lengthAdjust="spacingAndGlyphs">10.000</text>
<text x="426.50" y="408.80" font-size="11.0" text-anchor="middle" fill="#1c1c1c" stroke="#1c1c1c" stroke-width="0.38" font-weight="normal" textLength="132.5" lengthAdjust="spacingAndGlyphs">Spiked LMWH concentration (units/mL)</text>
<text transform="translate(290.90,310.90) rotate(-90)" x="0" y="0" font-size="11.5" text-anchor="middle" dominant-baseline="central" fill="#1c1c1c" stroke="#1c1c1c" stroke-width="0.42" font-weight="normal" textLength="30.4" lengthAdjust="spacingAndGlyphs">SRA (%)</text>
<text x="8.00" y="429.80" font-size="12.6" fill="#111" stroke="#111" stroke-width="0.3" font-weight="bold" textLength="8.33" lengthAdjust="spacingAndGlyphs">F</text>
<line x1="64.50" y1="468.00" x2="64.50" y2="576.40" stroke="#151515" stroke-width="1.2" />
<line x1="61.00" y1="575.80" x2="64.50" y2="575.80" stroke="#151515" stroke-width="1.1" />
<text x="57.20" y="579.10" font-size="10.08" text-anchor="end" fill="#1c1c1c" stroke="#1c1c1c" stroke-width="0.15" font-weight="normal" textLength="5.34" lengthAdjust="spacingAndGlyphs" >0</text>
<line x1="61.00" y1="558.23" x2="64.50" y2="558.23" stroke="#151515" stroke-width="1.1" />
<text x="57.20" y="561.53" font-size="10.08" text-anchor="end" fill="#1c1c1c" stroke="#1c1c1c" stroke-width="0.15" font-weight="normal" textLength="16.02" lengthAdjust="spacingAndGlyphs" >500</text>
<line x1="61.00" y1="540.66" x2="64.50" y2="540.66" stroke="#151515" stroke-width="1.1" />
<text x="57.20" y="543.96" font-size="10.08" text-anchor="end" fill="#1c1c1c" stroke="#1c1c1c" stroke-width="0.15" font-weight="normal" textLength="21.36" lengthAdjust="spacingAndGlyphs" >1000</text>
<line x1="61.00" y1="523.09" x2="64.50" y2="523.09" stroke="#151515" stroke-width="1.1" />
<text x="57.20" y="526.39" font-size="10.08" text-anchor="end" fill="#1c1c1c" stroke="#1c1c1c" stroke-width="0.15" font-weight="normal" textLength="21.36" lengthAdjust="spacingAndGlyphs" >1500</text>
<line x1="61.00" y1="505.52" x2="64.50" y2="505.52" stroke="#151515" stroke-width="1.1" />
<text x="57.20" y="508.82" font-size="10.08" text-anchor="end" fill="#1c1c1c" stroke="#1c1c1c" stroke-width="0.15" font-weight="normal" textLength="21.36" lengthAdjust="spacingAndGlyphs" >2000</text>
<line x1="61.00" y1="487.95" x2="64.50" y2="487.95" stroke="#151515" stroke-width="1.1" />
<text x="57.20" y="491.25" font-size="10.08" text-anchor="end" fill="#1c1c1c" stroke="#1c1c1c" stroke-width="0.15" font-weight="normal" textLength="21.36" lengthAdjust="spacingAndGlyphs" >2500</text>
<line x1="61.00" y1="470.38" x2="64.50" y2="470.38" stroke="#151515" stroke-width="1.1" />
<text x="57.20" y="473.68" font-size="10.08" text-anchor="end" fill="#1c1c1c" stroke="#1c1c1c" stroke-width="0.15" font-weight="normal" textLength="21.36" lengthAdjust="spacingAndGlyphs" >3000</text>
<line x1="63.90" y1="575.80" x2="222.50" y2="575.80" stroke="#151515" stroke-width="1.2" />
<line x1="80.20" y1="575.80" x2="80.20" y2="579.30" stroke="#151515" stroke-width="1.1" />
<line x1="111.90" y1="575.80" x2="111.90" y2="579.30" stroke="#151515" stroke-width="1.1" />
<line x1="143.60" y1="575.80" x2="143.60" y2="579.30" stroke="#151515" stroke-width="1.1" />
<line x1="175.30" y1="575.80" x2="175.30" y2="579.30" stroke="#151515" stroke-width="1.1" />
<line x1="207.00" y1="575.80" x2="207.00" y2="579.30" stroke="#151515" stroke-width="1.1" />
<rect x="67.80" y="565.12" width="5.1" height="10.68" fill="#a8d08c"/>
<line x1="69.00" y1="564.12" x2="71.70" y2="564.12" stroke="#555" stroke-width="0.8" />
<rect x="74.30" y="565.12" width="5.1" height="10.68" fill="#3aa935"/>
<line x1="75.50" y1="564.12" x2="78.20" y2="564.12" stroke="#555" stroke-width="0.8" />
<rect x="81.00" y="557.00" width="5.1" height="18.80" fill="#e8917f"/>
<line x1="82.20" y1="556.00" x2="84.90" y2="556.00" stroke="#555" stroke-width="0.8" />
<rect x="87.60" y="557.98" width="5.1" height="17.82" fill="#c4002b"/>
<line x1="88.80" y1="556.98" x2="91.50" y2="556.98" stroke="#555" stroke-width="0.8" />
<rect x="99.50" y="565.26" width="5.1" height="10.54" fill="#a8d08c"/>
<line x1="100.70" y1="564.26" x2="103.40" y2="564.26" stroke="#555" stroke-width="0.8" />
<rect x="106.00" y="565.26" width="5.1" height="10.54" fill="#3aa935"/>
<line x1="107.20" y1="564.26" x2="109.90" y2="564.26" stroke="#555" stroke-width="0.8" />
<rect x="112.70" y="536.90" width="5.1" height="38.90" fill="#e8917f"/>
<line x1="113.90" y1="535.90" x2="116.60" y2="535.90" stroke="#555" stroke-width="0.8" />
<rect x="119.30" y="557.00" width="5.1" height="18.80" fill="#c4002b"/>
<line x1="120.50" y1="556.00" x2="123.20" y2="556.00" stroke="#555" stroke-width="0.8" />
<rect x="131.20" y="564.91" width="5.1" height="10.89" fill="#a8d08c"/>
<line x1="132.40" y1="563.91" x2="135.10" y2="563.91" stroke="#555" stroke-width="0.8" />
<rect x="137.70" y="565.26" width="5.1" height="10.54" fill="#3aa935"/>
<line x1="138.90" y1="564.26" x2="141.60" y2="564.26" stroke="#555" stroke-width="0.8" />
<rect x="144.40" y="495.40" width="5.1" height="80.40" fill="#e8917f"/>
<line x1="145.60" y1="494.40" x2="148.30" y2="494.40" stroke="#555" stroke-width="0.8" />
<rect x="151.00" y="556.30" width="5.1" height="19.50" fill="#c4002b"/>
<line x1="152.20" y1="555.30" x2="154.90" y2="555.30" stroke="#555" stroke-width="0.8" />
<rect x="162.90" y="564.56" width="5.1" height="11.24" fill="#a8d08c"/>
<line x1="164.10" y1="563.56" x2="166.80" y2="563.56" stroke="#555" stroke-width="0.8" />
<rect x="169.40" y="564.56" width="5.1" height="11.24" fill="#3aa935"/>
<line x1="170.60" y1="563.56" x2="173.30" y2="563.56" stroke="#555" stroke-width="0.8" />
<rect x="176.10" y="482.71" width="5.1" height="93.09" fill="#e8917f"/>
<line x1="177.30" y1="481.71" x2="180.00" y2="481.71" stroke="#555" stroke-width="0.8" />
<rect x="182.70" y="556.30" width="5.1" height="19.50" fill="#c4002b"/>
<line x1="183.90" y1="555.30" x2="186.60" y2="555.30" stroke="#555" stroke-width="0.8" />
<rect x="194.60" y="564.56" width="5.1" height="11.24" fill="#a8d08c"/>
<line x1="195.80" y1="563.56" x2="198.50" y2="563.56" stroke="#555" stroke-width="0.8" />
<rect x="201.10" y="564.91" width="5.1" height="10.89" fill="#3aa935"/>
<line x1="202.30" y1="563.91" x2="205.00" y2="563.91" stroke="#555" stroke-width="0.8" />
<rect x="207.80" y="480.01" width="5.1" height="95.79" fill="#e8917f"/>
<line x1="209.00" y1="479.01" x2="211.70" y2="479.01" stroke="#555" stroke-width="0.8" />
<rect x="214.40" y="556.47" width="5.1" height="19.33" fill="#c4002b"/>
<line x1="215.60" y1="555.47" x2="218.30" y2="555.47" stroke="#555" stroke-width="0.8" />
<polyline points="83.55,549.50 83.55,466.3 90.15,466.3 90.15,551.98" fill="none" stroke="#555" stroke-width="0.8"/>
<text x="86.60" y="462.50" font-size="9.00" text-anchor="middle" fill="#1c1c1c" stroke="#1c1c1c" stroke-width="0.3" font-weight="normal" textLength="9.51" lengthAdjust="spacingAndGlyphs" >ns</text>
<polyline points="115.25,529.40 115.25,466.3 121.85,466.3 121.85,551.00" fill="none" stroke="#555" stroke-width="0.8"/>
<text x="118.30" y="465.00" font-size="9.00" text-anchor="middle" fill="#1c1c1c" stroke="#1c1c1c" stroke-width="0.3" font-weight="bold" textLength="7.00" lengthAdjust="spacingAndGlyphs" >**</text>
<polyline points="146.95,487.90 146.95,466.3 153.55,466.3 153.55,550.30" fill="none" stroke="#555" stroke-width="0.8"/>
<text x="150.00" y="465.00" font-size="9.00" text-anchor="middle" fill="#1c1c1c" stroke="#1c1c1c" stroke-width="0.3" font-weight="bold" textLength="10.51" lengthAdjust="spacingAndGlyphs" >***</text>
<polyline points="178.65,475.21 178.65,466.3 185.25,466.3 185.25,550.30" fill="none" stroke="#555" stroke-width="0.8"/>
<text x="181.70" y="465.00" font-size="9.00" text-anchor="middle" fill="#1c1c1c" stroke="#1c1c1c" stroke-width="0.3" font-weight="bold" textLength="14.01" lengthAdjust="spacingAndGlyphs" >****</text>
<polyline points="210.35,472.51 210.35,466.3 216.95,466.3 216.95,550.47" fill="none" stroke="#555" stroke-width="0.8"/>
<text x="213.40" y="465.00" font-size="9.00" text-anchor="middle" fill="#1c1c1c" stroke="#1c1c1c" stroke-width="0.3" font-weight="bold" textLength="14.01" lengthAdjust="spacingAndGlyphs" >****</text>
<text x="80.20" y="591.00" font-size="9.94" text-anchor="middle" fill="#1c1c1c" stroke="#1c1c1c" stroke-width="0.3" font-weight="normal" textLength="5.12" lengthAdjust="spacingAndGlyphs" >0</text>
<text x="111.90" y="591.00" font-size="9.94" text-anchor="middle" fill="#1c1c1c" stroke="#1c1c1c" stroke-width="0.3" font-weight="normal" textLength="17.91" lengthAdjust="spacingAndGlyphs" >0.05</text>
<text x="143.60" y="591.00" font-size="9.94" text-anchor="middle" fill="#1c1c1c" stroke="#1c1c1c" stroke-width="0.3" font-weight="normal" textLength="12.79" lengthAdjust="spacingAndGlyphs" >0.1</text>
<text x="175.30" y="591.00" font-size="9.94" text-anchor="middle" fill="#1c1c1c" stroke="#1c1c1c" stroke-width="0.3" font-weight="normal" textLength="12.79" lengthAdjust="spacingAndGlyphs" >0.3</text>
<text x="207.00" y="591.00" font-size="9.94" text-anchor="middle" fill="#1c1c1c" stroke="#1c1c1c" stroke-width="0.3" font-weight="normal" textLength="12.79" lengthAdjust="spacingAndGlyphs" >0.7</text>
<text x="144.20" y="606.20" font-size="11.0" text-anchor="middle" fill="#1c1c1c" stroke="#1c1c1c" stroke-width="0.38" font-weight="normal" textLength="128" lengthAdjust="spacingAndGlyphs">Spiked UFH concentration (units/mL)</text>
<text transform="translate(25.60,522.20) rotate(-90)" x="0" y="0" font-size="11.3" text-anchor="middle" dominant-baseline="central" fill="#1c1c1c" stroke="#1c1c1c" stroke-width="0.45" font-weight="normal" textLength="93.6" lengthAdjust="spacingAndGlyphs">P-selectin expression (MFI)</text>
<rect x="24" y="439.3" width="11" height="5.2" fill="#a8d08c"/>
<text x="39.00" y="445.30" font-size="8.80" text-anchor="start" fill="#1c1c1c" stroke="#1c1c1c" stroke-width="0.3" font-weight="normal" textLength="12.71" lengthAdjust="spacingAndGlyphs" >NC</text>
<rect x="59.3" y="439.3" width="11" height="5.2" fill="#3aa935"/>
<text x="73.00" y="445.30" font-size="8.80" text-anchor="start" fill="#1c1c1c" stroke="#1c1c1c" stroke-width="0.3" font-weight="normal" textLength="46.22" lengthAdjust="spacingAndGlyphs" >NC + Hep. I</text>
<rect x="125.5" y="439.3" width="11" height="5.2" fill="#e8917f"/>
<text x="140.50" y="445.30" font-size="8.80" text-anchor="start" fill="#1c1c1c" stroke="#1c1c1c" stroke-width="0.3" font-weight="normal" textLength="14.18" lengthAdjust="spacingAndGlyphs" >HIT</text>
<rect x="160" y="439.3" width="11" height="5.2" fill="#c4002b"/>
<text x="175.50" y="445.30" font-size="8.80" text-anchor="start" fill="#1c1c1c" stroke="#1c1c1c" stroke-width="0.3" font-weight="normal" textLength="47.52" lengthAdjust="spacingAndGlyphs" >HIT + Hep. I</text>
<text x="272.60" y="430.70" font-size="12.6" fill="#111" stroke="#111" stroke-width="0.3" font-weight="bold" textLength="10.61" lengthAdjust="spacingAndGlyphs">G</text>
<line x1="325.80" y1="467.40" x2="325.80" y2="576.10" stroke="#151515" stroke-width="1.2" />
<line x1="322.30" y1="575.50" x2="325.80" y2="575.50" stroke="#151515" stroke-width="1.1" />
<text x="318.50" y="578.80" font-size="9.66" text-anchor="end" fill="#1c1c1c" stroke="#1c1c1c" stroke-width="0.15" font-weight="normal" textLength="5.12" lengthAdjust="spacingAndGlyphs" >0</text>
<line x1="322.30" y1="551.08" x2="325.80" y2="551.08" stroke="#151515" stroke-width="1.1" />
<text x="318.50" y="554.38" font-size="9.66" text-anchor="end" fill="#1c1c1c" stroke="#1c1c1c" stroke-width="0.15" font-weight="normal" textLength="10.23" lengthAdjust="spacingAndGlyphs" >25</text>
<line x1="322.30" y1="526.65" x2="325.80" y2="526.65" stroke="#151515" stroke-width="1.1" />
<text x="318.50" y="529.95" font-size="9.66" text-anchor="end" fill="#1c1c1c" stroke="#1c1c1c" stroke-width="0.15" font-weight="normal" textLength="10.23" lengthAdjust="spacingAndGlyphs" >50</text>
<line x1="322.30" y1="502.23" x2="325.80" y2="502.23" stroke="#151515" stroke-width="1.1" />
<text x="318.50" y="505.53" font-size="9.66" text-anchor="end" fill="#1c1c1c" stroke="#1c1c1c" stroke-width="0.15" font-weight="normal" textLength="10.23" lengthAdjust="spacingAndGlyphs" >75</text>
<line x1="322.30" y1="477.80" x2="325.80" y2="477.80" stroke="#151515" stroke-width="1.1" />
<text x="318.50" y="481.10" font-size="9.66" text-anchor="end" fill="#1c1c1c" stroke="#1c1c1c" stroke-width="0.15" font-weight="normal" textLength="15.35" lengthAdjust="spacingAndGlyphs" >100</text>
<line x1="325.20" y1="575.50" x2="483.10" y2="575.50" stroke="#151515" stroke-width="1.2" />
<line x1="345.40" y1="575.50" x2="345.40" y2="579.00" stroke="#151515" stroke-width="1.1" />
<line x1="386.07" y1="575.50" x2="386.07" y2="579.00" stroke="#151515" stroke-width="1.1" />
<line x1="426.74" y1="575.50" x2="426.74" y2="579.00" stroke="#151515" stroke-width="1.1" />
<line x1="467.41" y1="575.50" x2="467.41" y2="579.00" stroke="#151515" stroke-width="1.1" />
<rect x="332.70" y="488.16" width="10.9" height="87.34" fill="#0e4b8c"/>
<rect x="347.00" y="499.98" width="11.1" height="75.52" fill="#c8102e"/>
<rect x="373.37" y="473.89" width="10.9" height="101.61" fill="#0e4b8c"/>
<rect x="387.67" y="480.34" width="11.1" height="95.16" fill="#c8102e"/>
<rect x="414.04" y="494.21" width="10.9" height="81.29" fill="#0e4b8c"/>
<rect x="428.34" y="571.49" width="11.1" height="4.01" fill="#c8102e"/>
<rect x="454.71" y="477.60" width="10.9" height="97.90" fill="#0e4b8c"/>
<rect x="469.01" y="479.36" width="11.1" height="96.14" fill="#c8102e"/>
<text x="345.40" y="590.80" font-size="9.83" text-anchor="middle" fill="#1c1c1c" stroke="#1c1c1c" stroke-width="0.3" font-weight="normal" textLength="22.08" lengthAdjust="spacingAndGlyphs" >HIT 1</text>
<text x="386.07" y="590.80" font-size="9.83" text-anchor="middle" fill="#1c1c1c" stroke="#1c1c1c" stroke-width="0.3" font-weight="normal" textLength="22.08" lengthAdjust="spacingAndGlyphs" >HIT 2</text>
<text x="426.74" y="590.80" font-size="9.83" text-anchor="middle" fill="#1c1c1c" stroke="#1c1c1c" stroke-width="0.3" font-weight="normal" textLength="22.08" lengthAdjust="spacingAndGlyphs" >HIT 3</text>
<text x="467.41" y="590.80" font-size="9.83" text-anchor="middle" fill="#1c1c1c" stroke="#1c1c1c" stroke-width="0.3" font-weight="normal" textLength="22.08" lengthAdjust="spacingAndGlyphs" >HIT 4</text>
<line x1="328.80" y1="597.00" x2="361.50" y2="597.00" stroke="#444" stroke-width="1.1" />
<line x1="373.00" y1="597.00" x2="482.70" y2="597.00" stroke="#444" stroke-width="1.1" />
<text x="344.60" y="609.00" font-size="9.30" text-anchor="middle" fill="#1c1c1c" stroke="#1c1c1c" stroke-width="0.3" font-weight="normal" textLength="41.62" lengthAdjust="spacingAndGlyphs" >&gt;12 hours</text>
<text x="427.80" y="609.00" font-size="9.30" text-anchor="middle" fill="#1c1c1c" stroke="#1c1c1c" stroke-width="0.3" font-weight="normal" textLength="36.45" lengthAdjust="spacingAndGlyphs" >&lt;4 hours</text>
<line x1="328.80" y1="614.60" x2="482.70" y2="614.60" stroke="#444" stroke-width="1.1" />
<text x="405.70" y="625.40" font-size="9.10" text-anchor="middle" fill="#1c1c1c" stroke="#1c1c1c" stroke-width="0.3" font-weight="normal" textLength="72.84" lengthAdjust="spacingAndGlyphs" >Heparin cessation</text>
<text transform="translate(292.60,521.80) rotate(-90)" x="0" y="0" font-size="11.3" text-anchor="middle" dominant-baseline="central" fill="#1c1c1c" stroke="#1c1c1c" stroke-width="0.45" font-weight="normal" textLength="70.8" lengthAdjust="spacingAndGlyphs">No-heparin SRA (%)</text>
<rect x="347.6" y="440.3" width="10.8" height="4.8" fill="#0e4b8c"/>
<text x="361.90" y="445.70" font-size="9.03" text-anchor="start" fill="#1c1c1c" stroke="#1c1c1c" stroke-width="0.3" font-weight="normal" textLength="22.79" lengthAdjust="spacingAndGlyphs" >Buffer</text>
<rect x="392" y="440.0" width="11.1" height="5.2" fill="#c8102e"/>
<text x="406.50" y="445.70" font-size="8.91" text-anchor="start" fill="#1c1c1c" stroke="#1c1c1c" stroke-width="0.3" font-weight="normal" textLength="45.93" lengthAdjust="spacingAndGlyphs" >Heparinase I</text>
<rect x="0.5" y="0.5" width="519" height="635" fill="none" stroke="#3a3a3a" stroke-width="1"/>
</svg>
</body></html>
